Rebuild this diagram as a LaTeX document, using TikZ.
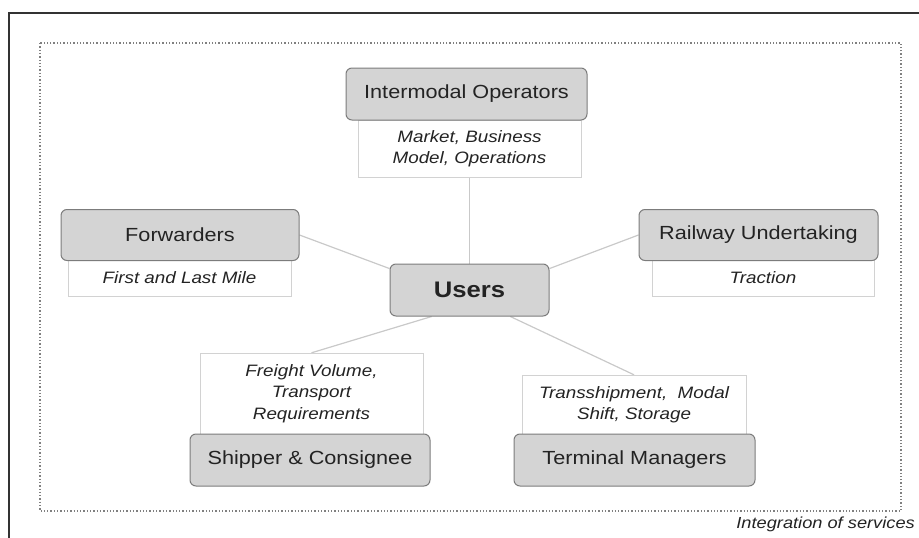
\documentclass[tikz,border=0pt]{standalone}
\usepackage{fontspec}
\setmainfont{Liberation Sans}[FakeStretch=1.14]
\usetikzlibrary{positioning,backgrounds}
\definecolor{boxfill}{HTML}{D4D4D4}
\definecolor{boxline}{HTML}{7C7C7C}
\definecolor{linkgray}{HTML}{C9C9C9}
\definecolor{descline}{HTML}{D2D2D2}
\definecolor{ink}{HTML}{232323}
\definecolor{framegray}{HTML}{333333}

\tikzset{
  actor/.style={draw=boxline, fill=boxfill, rounded corners=6pt, line width=1pt,
    text=ink, font=\fontsize{19}{23}\selectfont, minimum height=51pt, inner sep=0pt},
  role/.style={draw=descline, fill=white, text=ink,
    font=\fontsize{16.5}{21.5}\selectfont\itshape, align=center, inner sep=0pt},
  link/.style={draw=linkgray, line width=1.2pt},
}

\begin{document}
\begin{tikzpicture}[x=1pt,y=-1pt]
    \useasboundingbox (0,0) rectangle (919,538);

    % outer frame and service boundary
    \draw[framegray, line width=2pt] (9,538) -- (9,13) -- (919,13);
    \draw[gray, dotted, line width=1.3pt] (40,43) rectangle (901,511);
    \node[anchor=north east, text=ink, font=\fontsize{16}{20}\selectfont\itshape, inner sep=0pt] (integ) at (915,517) {Integration of services};

    % descriptions (behind the titles)
    \node[role, minimum width=223pt, minimum height=57pt] (imodesc) at (469.5,148.5) {Market, Business\\Model, Operations};
    \node[role, minimum width=223pt, minimum height=36pt] (fwddesc) at (179.5,278) {First and Last Mile};
    \node[role, minimum width=222pt, minimum height=36pt] (raildesc) at (763,278) {Traction};
    \node[role, minimum width=223pt, minimum height=81pt] (shipdesc) at (311.5,393.5) {Freight Volume,\\Transport\\Requirements};
    \node[role, minimum width=224pt, minimum height=59pt] (termdesc) at (634,404.5) {Transshipment,\ \ Modal\\Shift, Storage};

    % actors
    \node[actor, minimum width=241pt, minimum height=52pt] (imo) at (466.5,94) {Intermodal Operators};
    \node[actor, minimum width=238pt] (fwd) at (180,235) {Forwarders};
    \node[actor, minimum width=239pt] (rail) at (758.5,235) {Railway Undertaking};
    \node[actor, minimum width=240pt, minimum height=52pt] (ship) at (310,460) {Shipper \& Consignee};
    \node[actor, minimum width=241pt, minimum height=52pt] (term) at (634.5,460) {Terminal Managers};

    % centre
    \node[actor, minimum width=159pt, minimum height=52pt, font=\fontsize{22.5}{27}\selectfont\bfseries] (users) at (469.5,290) {Users};

    % links to the users
    \begin{scope}[on background layer]
      \draw[link] (imodesc.south) -- (users.north);
      \draw[link] (fwd.east) -- (users.165);
      \draw[link] (rail.west) -- (users.15);
      \draw[link] (users.215) -- (shipdesc.north);
      \draw[link] (users.327) -- (termdesc.north);
    \end{scope}
\end{tikzpicture}
\end{document}
